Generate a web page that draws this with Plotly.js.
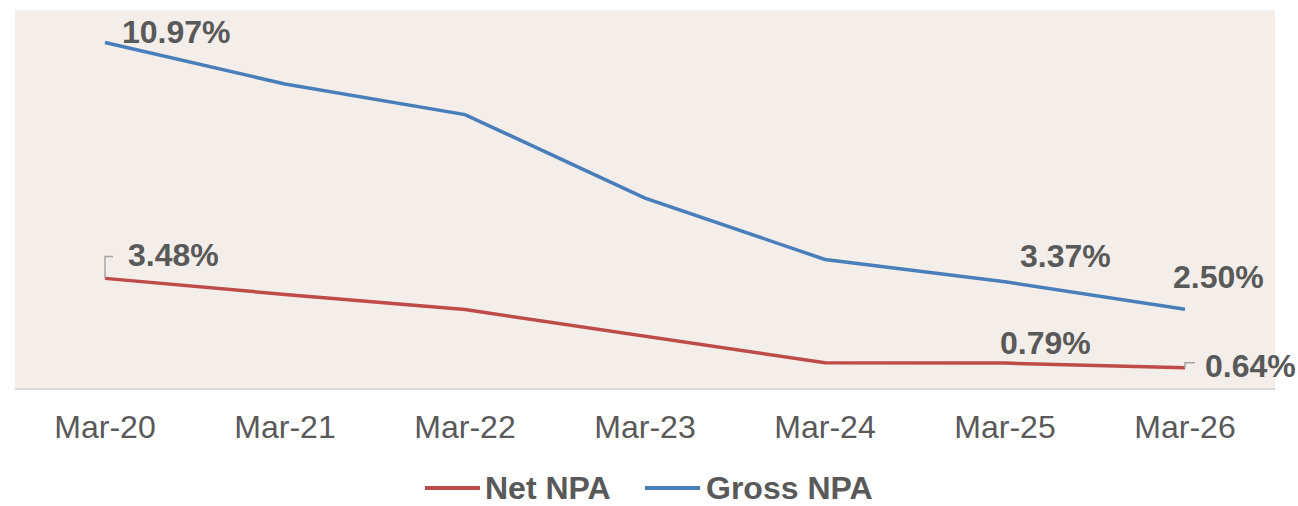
<!DOCTYPE html>
<html>
<head>
<meta charset="utf-8">
<script src="https://cdn.plot.ly/plotly-3.0.1.min.js"></script>
<style>html,body{margin:0;padding:0;background:#fff;}#chart{width:1298px;height:506px;}</style>
</head>
<body>
<div id="chart"></div>
<script>
const categories = ["Mar-20","Mar-21","Mar-22","Mar-23","Mar-24","Mar-25","Mar-26"];
const netNPA = [3.48, 2.97, 2.49, 1.64, 0.80, 0.79, 0.64];
const grossNPA = [10.97, 9.65, 8.68, 6.03, 4.08, 3.37, 2.50];
const seriesNames = ["Net NPA", "Gross NPA"];
// labelled points (indices)
const labelledNet = [0, 5, 6];
const labelledGross = [0, 5, 6];

const FONT = "Liberation Sans, Arial, sans-serif";
const TXT = "#595959";
const RED = "#BE4B48";
const BLUE = "#4A7EBB";

const traces = [
  {x: categories, y: netNPA, name: seriesNames[0], type: "scatter", mode: "lines",
   line: {color: RED, width: 3.5}},
  {x: categories, y: grossNPA, name: seriesNames[1], type: "scatter", mode: "lines",
   line: {color: BLUE, width: 3.5}}
];

function lab(arr, i, xs, ys, anchor) {
  return {x: categories[i], y: arr[i], xref: "x", yref: "y",
    text: "<b>" + arr[i].toFixed(2) + "%</b>", showarrow: false,
    xanchor: anchor, yanchor: "middle", xshift: xs, yshift: ys,
    font: {family: FONT, size: 32, color: TXT}};
}

const annotations = [
  lab(grossNPA, labelledGross[0], 15, 10, "left"),
  lab(grossNPA, labelledGross[1], 60, 26, "center"),
  lab(grossNPA, labelledGross[2], 33, 32, "center"),
  lab(netNPA, labelledNet[0], 21, 23, "left"),
  lab(netNPA, labelledNet[1], 40, 20, "center"),
  lab(netNPA, labelledNet[2], 18, 2, "left"),
  // custom legend texts
  {xref: "paper", yref: "paper", x: 0.3715, y: -0.265, text: "<b>" + seriesNames[0] + "</b>",
   showarrow: false, xanchor: "left", yanchor: "middle",
   font: {family: FONT, size: 32, color: TXT}},
  {xref: "paper", yref: "paper", x: 0.547, y: -0.265, text: "<b>" + seriesNames[1] + "</b>",
   showarrow: false, xanchor: "left", yanchor: "middle",
   font: {family: FONT, size: 32, color: TXT}}
];

const shapes = [
  {type: "path", xref: "x", yref: "y", xsizemode: "pixel", ysizemode: "pixel",
   xanchor: categories[0], yanchor: netNPA[0],
   path: "M0,0 L0,22 L8,22", line: {color: "#A6A6A6", width: 1.5}},
  {type: "path", xref: "x", yref: "y", xsizemode: "pixel", ysizemode: "pixel",
   xanchor: categories[6], yanchor: netNPA[6],
   path: "M0,0 L0,5 L10,5", line: {color: "#A6A6A6", width: 1.5}},
  // custom legend symbols
  {type: "line", xref: "paper", yref: "paper", x0: 0.3254, x1: 0.369, y0: -0.2646, y1: -0.2646,
   line: {color: RED, width: 4}},
  {type: "line", xref: "paper", yref: "paper", x0: 0.5, x1: 0.5437, y0: -0.2646, y1: -0.2646,
   line: {color: BLUE, width: 4}}
];

const layout = {
  width: 1298, height: 506,
  margin: {l: 15, r: 23, t: 10, b: 118},
  paper_bgcolor: "#FFFFFF",
  plot_bgcolor: "#F3EEEA",
  showlegend: false,
  xaxis: {type: "category", range: [-0.5, 6.5], showgrid: false, zeroline: false,
    showline: true, linecolor: "#D9D9D9", linewidth: 1.5, ticks: "",
    tickfont: {family: FONT, size: 32, color: TXT}, automargin: false, ticklabelstandoff: 10},
  yaxis: {range: [0, 12], showgrid: false, zeroline: false, showline: false,
    showticklabels: false, ticks: "", fixedrange: true},
  annotations: annotations,
  shapes: shapes
};

Plotly.newPlot("chart", traces, layout, {displayModeBar: false, staticPlot: true});
</script>
</body>
</html>
